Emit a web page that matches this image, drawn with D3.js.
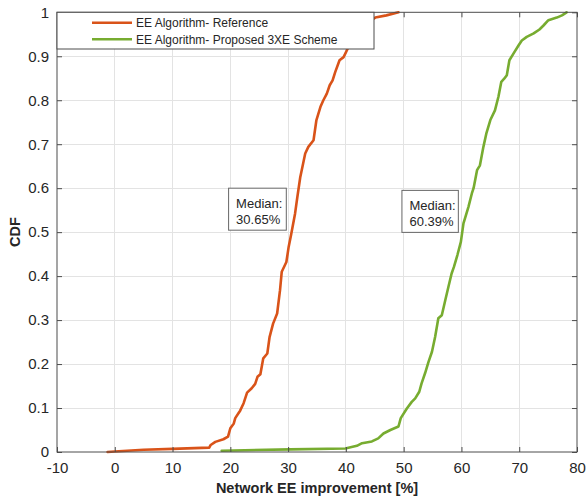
<!DOCTYPE html>
<html>
<head>
<meta charset="utf-8">
<script src="https://cdn.jsdelivr.net/npm/d3@7"></script>
<style>
  body { margin: 0; background: #fff; }
  text { font-family: "Liberation Sans", Arial, Helvetica, sans-serif; fill: #262626; }
</style>
</head>
<body>
<svg id="chart" width="587" height="501"></svg>
<script>
// Axis ticks
const xTicks = [-10, 0, 10, 20, 30, 40, 50, 60, 70, 80];
const xTickLabels = ["-10", "0", "10", "20", "30", "40", "50", "60", "70", "80"];
const yTicks = [0, 0.1, 0.2, 0.3, 0.4, 0.5, 0.6, 0.7, 0.8, 0.9, 1];
const yTickLabels = ["0", "0.1", "0.2", "0.3", "0.4", "0.5", "0.6", "0.7", "0.8", "0.9", "1"];

// Empirical CDF — reference EE algorithm
const refImprovement = [-1.25, 0, 5, 10, 16.35, 16.6, 17.4, 18.8, 19.6, 20.0, 20.6, 20.85, 21.4, 21.7, 22.3, 22.9,
  23.7, 24.3, 24.7, 25.2, 25.7, 26.4, 26.8, 27.4, 28.1, 28.6, 28.9, 29.7, 30.1, 30.5, 31.2, 31.6, 32.1, 32.6,
  32.96, 33.5, 34.4, 34.9, 35.6, 36.1, 36.7, 37.2, 37.7, 38.15, 38.9, 39.6, 40.45, 41.5, 42.5, 43.5, 45.1, 47.0, 49.1];
const refCdf = [0, 0.001, 0.005, 0.007, 0.010, 0.016, 0.023, 0.029, 0.035, 0.054, 0.065, 0.077, 0.088, 0.094, 0.111, 0.135,
  0.145, 0.155, 0.171, 0.177, 0.213, 0.224, 0.262, 0.292, 0.315, 0.368, 0.41, 0.432, 0.467, 0.493, 0.542, 0.58, 0.625, 0.656,
  0.679, 0.694, 0.709, 0.755, 0.785, 0.80, 0.815, 0.834, 0.845, 0.864, 0.891, 0.898, 0.921, 0.94, 0.96, 0.975, 0.988, 0.993, 1.0];

// Empirical CDF — proposed 3XE scheme
const propImprovement = [18.5, 30.4, 39.9, 41.9, 42.8, 44.5, 45.6, 46.5, 47.7, 49.1, 49.5, 50.55, 51.4, 52.0, 52.7, 53.1,
  53.7, 54.3, 54.9, 55.45, 56.0, 56.6, 57.2, 57.75, 58.3, 58.7, 59.3, 59.9, 60.35, 60.6, 61.2, 61.8, 62.1, 62.7, 63.2,
  63.8, 64.3, 65.0, 65.8, 66.4, 66.9, 67.4, 67.85, 68.3, 69.0, 69.9, 70.45, 71.3, 72.5, 73.5, 74.2, 75.05, 76.5, 77.4, 78.2];
const propCdf = [0.003, 0.006, 0.008, 0.014, 0.02, 0.024, 0.031, 0.042, 0.05, 0.058, 0.077, 0.099, 0.114, 0.122, 0.137, 0.156,
  0.179, 0.205, 0.228, 0.262, 0.304, 0.311, 0.345, 0.376, 0.406, 0.421, 0.448, 0.478, 0.52, 0.531, 0.557, 0.588, 0.60, 0.641, 0.652,
  0.694, 0.724, 0.755, 0.777, 0.808, 0.842, 0.849, 0.857, 0.891, 0.906, 0.925, 0.936, 0.944, 0.952, 0.961, 0.97, 0.982, 0.988, 0.993, 1.0];

const seriesNames = ["EE Algorithm- Reference", "EE Algorithm- Proposed 3XE Scheme"];
const seriesColors = ["#D95319", "#77AC30"];
const medianValues = [30.65, 60.39];

const svg = d3.select("#chart");
const m = { left: 57, right: 577, top: 12.3, bottom: 452 };
const x = d3.scaleLinear().domain([-10, 80]).range([m.left, m.right]);
const y = d3.scaleLinear().domain([0, 1]).range([m.bottom, m.top]);
const axisColor = "#4d4d4d";

// grid
const grid = svg.append("g");
grid.selectAll("line.vx").data(xTicks.slice(1, -1)).join("line")
  .attr("x1", d => x(d)).attr("x2", d => x(d)).attr("y1", m.top).attr("y2", m.bottom)
  .attr("stroke", "#e3e3e3").attr("stroke-width", 1).attr("shape-rendering", "crispEdges");
grid.selectAll("line.hy").data(yTicks.slice(1, -1)).join("line")
  .attr("x1", m.left).attr("x2", m.right).attr("y1", d => y(d)).attr("y2", d => y(d))
  .attr("stroke", "#e3e3e3").attr("stroke-width", 1).attr("shape-rendering", "crispEdges");

// curves
const line = d3.line().x(d => x(d[0])).y(d => y(d[1]));
const series = [
  d3.zip(refImprovement, refCdf),
  d3.zip(propImprovement, propCdf)
];
svg.append("g").selectAll("path").data(series).join("path")
  .attr("d", line).attr("fill", "none")
  .attr("stroke", (d, i) => seriesColors[i]).attr("stroke-width", 2.6)
  .attr("stroke-linejoin", "round").attr("stroke-linecap", "round");

// axes (MATLAB-style inward ticks on all sides)
const tickLen = 5;
const axisB = d3.axisBottom(x).tickValues(xTicks).tickSizeInner(-tickLen).tickSizeOuter(0).tickPadding(10)
  .tickFormat((d, i) => xTickLabels[i]);
const axisT = d3.axisTop(x).tickValues(xTicks).tickSizeInner(-tickLen).tickSizeOuter(0).tickFormat("");
const axisL = d3.axisLeft(y).tickValues(yTicks).tickSizeInner(-tickLen).tickSizeOuter(0).tickPadding(8)
  .tickFormat((d, i) => yTickLabels[i]);
const axisR = d3.axisRight(y).tickValues(yTicks).tickSizeInner(-tickLen).tickSizeOuter(0).tickFormat("");

function styleAxis(g) {
  g.select(".domain").remove();
  g.selectAll(".tick line").attr("stroke", axisColor);
  g.selectAll(".tick text").attr("font-size", 15).attr("fill", "#262626")
    .style("font-family", '"Liberation Sans", Arial, Helvetica, sans-serif');
}
svg.append("g").attr("transform", `translate(0,${m.bottom})`).call(axisB).call(styleAxis);
svg.append("g").attr("transform", `translate(0,${m.top})`).call(axisT).call(styleAxis);
svg.append("g").attr("transform", `translate(${m.left},0)`).call(axisL).call(styleAxis);
svg.append("g").attr("transform", `translate(${m.right},0)`).call(axisR).call(styleAxis);

svg.append("rect").attr("x", m.left).attr("y", m.top)
  .attr("width", m.right - m.left).attr("height", m.bottom - m.top)
  .attr("fill", "none").attr("stroke", axisColor).attr("stroke-width", 1);

// axis titles
svg.append("text").attr("x", (m.left + m.right) / 2).attr("y", 493)
  .attr("text-anchor", "middle").attr("font-size", 14.5).attr("font-weight", "bold")
  .text("Network EE improvement [%]");
svg.append("text").attr("transform", `translate(20,${(m.top + m.bottom) / 2}) rotate(-90)`)
  .attr("text-anchor", "middle").attr("font-size", 14.5).attr("font-weight", "bold")
  .text("CDF");

// median annotations
const notes = [
  { left: 19.7, top: 0.6, w: 57.7, h: 42, value: medianValues[0] },
  { left: 49.7, top: 0.595, w: 56.4, h: 42, value: medianValues[1] }
];
notes.forEach(n => {
  const gx = x(n.left), gy = y(n.top);
  const g = svg.append("g").attr("transform", `translate(${gx},${gy})`);
  g.append("rect").attr("width", n.w).attr("height", n.h)
    .attr("fill", "#fff").attr("stroke", "#666").attr("stroke-width", 1);
  g.append("text").attr("x", 7.5).attr("y", 19.5).attr("font-size", 13).text("Median:");
  g.append("text").attr("x", 7.5).attr("y", 35.5).attr("font-size", 13).text(d3.format(".2f")(n.value) + "%");
});

// legend
const lg = svg.append("g").attr("transform", `translate(${m.left},${m.top})`);
lg.append("rect").attr("width", 317).attr("height", 36.7)
  .attr("fill", "#fff").attr("stroke", axisColor).attr("stroke-width", 1);
seriesNames.forEach((name, i) => {
  const ly = 10.4 + i * 16.6;
  lg.append("line").attr("x1", 35).attr("x2", 75).attr("y1", ly).attr("y2", ly)
    .attr("stroke", seriesColors[i]).attr("stroke-width", 2.6);
  lg.append("text").attr("x", 79).attr("y", ly + 4.6).attr("font-size", 12).text(name);
});
</script>
</body>
</html>
